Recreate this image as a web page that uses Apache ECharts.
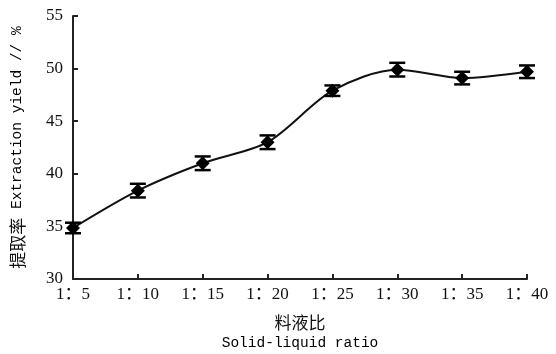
<!DOCTYPE html>
<html>
<head>
<meta charset="utf-8">
<script src="https://cdn.jsdelivr.net/npm/echarts@6/dist/echarts.min.js"></script>
<style>
  html, body { margin: 0; padding: 0; background: #fff; }
  #main { width: 556px; height: 354px; }
</style>
</head>
<body>
<div id="main"></div>
<script>
// 料液比
var categories = ['1：5', '1：10', '1：15', '1：20', '1：25', '1：30', '1：35', '1：40'];
// 提取率 %
var yieldValues = [34.85, 38.4, 41.0, 43.0, 47.9, 49.9, 49.1, 49.7];
// 误差
var errValues = [0.5, 0.65, 0.65, 0.65, 0.5, 0.65, 0.6, 0.6];

var serif = '"Liberation Serif", "DejaVu Serif", "Noto Sans CJK SC", serif';
var mono = '"Liberation Mono", "DejaVu Sans Mono", monospace';
var cjk = '"Noto Sans CJK SC", sans-serif';

var errData = categories.map(function (c, i) {
    return [i, yieldValues[i] - errValues[i], yieldValues[i] + errValues[i]];
});

var myChart = echarts.init(document.getElementById('main'));

myChart.setOption({
    animation: false,
    grid: { left: 73, right: 29, top: 16, bottom: 75, outerBoundsMode: 'none', containLabel: false },
    xAxis: {
        type: 'category',
        data: categories,
        boundaryGap: false,
        name: '{c|料液比}\n{e|Solid-liquid ratio}',
        nameLocation: 'middle',
        nameGap: 33,
        nameTextStyle: { lineHeight: 21, rich: {
            c: { fontFamily: cjk, fontSize: 17, color: '#111', lineHeight: 21 },
            e: { fontFamily: mono, fontSize: 14.5, color: '#000', lineHeight: 21 }
        } },
        axisLine: { lineStyle: { color: '#222', width: 2 } },
        axisTick: { inside: true, length: 5, lineStyle: { color: '#222', width: 2 } },
        axisLabel: { color: '#111', fontSize: 17, fontFamily: serif, margin: 7, interval: 0 },
        splitLine: { show: false }
    },
    yAxis: {
        type: 'value',
        min: 30,
        max: 55,
        interval: 5,
        name: '{c|提取率}{e| Extraction yield // %}',
        nameLocation: 'middle',
        nameGap: 47,
        nameTextStyle: { rich: {
            c: { fontFamily: cjk, fontSize: 17, color: '#111' },
            e: { fontFamily: mono, fontSize: 14.5, color: '#000' }
        } },
        axisLine: { show: true, lineStyle: { color: '#222', width: 2 } },
        axisTick: { show: true, inside: true, length: 5, lineStyle: { color: '#222', width: 2 } },
        axisLabel: { color: '#111', fontSize: 17, fontFamily: serif, margin: 10 },
        splitLine: { show: false }
    },
    series: [
        {
            type: 'line',
            data: yieldValues,
            smooth: 0.3,
            symbol: 'diamond',
            symbolSize: 14,
            lineStyle: { color: '#111', width: 2 },
            itemStyle: { color: '#000' },
            z: 3
        },
        {
            type: 'custom',
            data: errData,
            z: 4,
            renderItem: function (params, api) {
                var lo = api.coord([api.value(0), api.value(1)]);
                var hi = api.coord([api.value(0), api.value(2)]);
                var w = 8;
                var st = { stroke: '#000', lineWidth: 2.5 };
                return {
                    type: 'group',
                    children: [
                        { type: 'line', shape: { x1: lo[0], y1: lo[1], x2: hi[0], y2: hi[1] }, style: st },
                        { type: 'line', shape: { x1: lo[0] - w, y1: lo[1], x2: lo[0] + w, y2: lo[1] }, style: st },
                        { type: 'line', shape: { x1: hi[0] - w, y1: hi[1], x2: hi[0] + w, y2: hi[1] }, style: st }
                    ]
                };
            }
        }
    ]
});
</script>
</body>
</html>
